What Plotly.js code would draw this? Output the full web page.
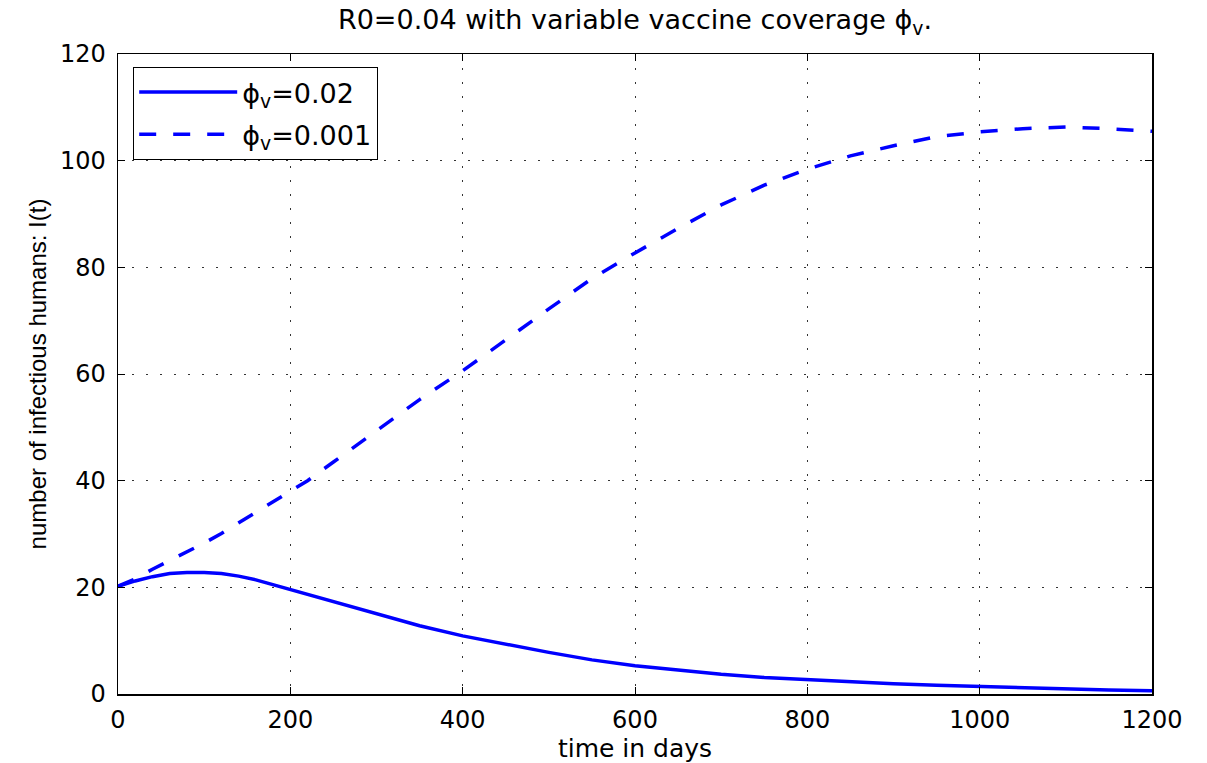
<!DOCTYPE html>
<html>
<head>
<meta charset="utf-8">
<script src="https://cdn.plot.ly/plotly-3.0.1.min.js"></script>
<style>html,body{margin:0;padding:0;background:#fff;}#chart{width:1207px;height:763px;}</style>
</head>
<body>
<div id="chart"></div>
<script>
// time in days
var tLow = [0, 20, 40, 60, 80, 100, 120, 140, 160, 180, 200, 250, 300, 350, 400, 450, 500, 550, 600, 650, 700, 750, 800, 850, 900, 950, 1000, 1050, 1100, 1150, 1200];
// phi_v = 0.02 (solid)
var iLow = [20.2, 21.2, 22.0, 22.6, 22.8, 22.8, 22.6, 22.1, 21.4, 20.5, 19.6, 17.4, 15.0, 12.8, 10.9, 9.3, 7.8, 6.4, 5.3, 4.5, 3.7, 3.1, 2.65, 2.3, 1.9, 1.65, 1.4, 1.15, 0.95, 0.75, 0.6];
var tHigh = [0, 20, 40, 60, 80, 100, 120, 140, 160, 180, 200, 220, 250, 300, 335, 350, 400, 450, 500, 550, 600, 650, 700, 750, 800, 850, 900, 950, 1000, 1050, 1100, 1150, 1200];
// phi_v = 0.001 (dashed)
var iHigh = [20.2, 21.6, 23.4, 25.0, 26.6, 28.3, 30.1, 32.1, 34.0, 36.0, 38.0, 40.0, 43.5, 49.3, 53.5, 55.2, 60.6, 66.5, 72.2, 77.9, 82.7, 87.3, 91.7, 95.4, 98.4, 100.9, 102.8, 104.5, 105.4, 106.0, 106.3, 106.0, 105.5];
var names = ['ϕ<sub>v</sub>=0.02', 'ϕ<sub>v</sub>=0.001'];
var xTicks = [0, 200, 400, 600, 800, 1000, 1200];
var yTicks = [0, 20, 40, 60, 80, 100, 120];

var wide = 'DejaVu Sans, Liberation Sans, Arial, sans-serif';
var plain = 'Liberation Sans, Arial, sans-serif';

var traces = [
  {x: tLow, y: iLow, type: 'scatter', mode: 'lines', name: names[0], legendgroup: 'a',
   line: {color: '#0000ff', width: 3.5}},
  {x: tHigh, y: iHigh, type: 'scatter', mode: 'lines', name: names[1], legendgroup: 'b',
   line: {color: '#0000ff', width: 3.5, dash: '17px,17px'}}
];

var axisCommon = {
  showline: true, linecolor: '#000', linewidth: 1.5, mirror: 'allticks',
  ticks: 'inside', ticklen: 7, tickcolor: '#000', tickwidth: 1,
  showgrid: true, gridcolor: '#333', gridwidth: 1, griddash: '2px,12px',
  zeroline: false, tickfont: {family: wide, size: 24, color: '#000'}
};

var layout = {
  width: 1207, height: 763,
  margin: {l: 118, r: 55, t: 54, b: 69},
  paper_bgcolor: '#fff', plot_bgcolor: '#fff',
  title: {text: 'R0=0.04 with variable vaccine coverage ϕ<sub>v</sub>.', font: {family: wide, size: 27, color: '#000'},
          x: 0.5, xref: 'paper', y: 0.974, yref: 'container', yanchor: 'middle'},
  xaxis: Object.assign({}, axisCommon, {range: [0, 1200], tickvals: xTicks, ticktext: xTicks.map(String),
    ticklabelstandoff: 4,
    title: {text: 'time in days', font: {family: wide, size: 25, color: '#000'}, standoff: 6}}),
  yaxis: Object.assign({}, axisCommon, {range: [0, 120], tickvals: yTicks, ticktext: yTicks.map(String),
    ticklabelstandoff: 6,
    title: {text: 'number of infectious humans: I(t)', font: {family: plain, size: 24, color: '#000'}, standoff: 6}}),
  showlegend: true,
  legend: {x: 0.0145, y: 0.98, xanchor: 'left', yanchor: 'top', bgcolor: '#fff', bordercolor: '#000', borderwidth: 1.2,
           font: {family: wide, size: 27, color: '#000'}, traceorder: 'grouped', tracegroupgap: 4, itemwidth: 98}
};

Plotly.newPlot('chart', traces, layout, {displayModeBar: false, staticPlot: true});
</script>
</body>
</html>
